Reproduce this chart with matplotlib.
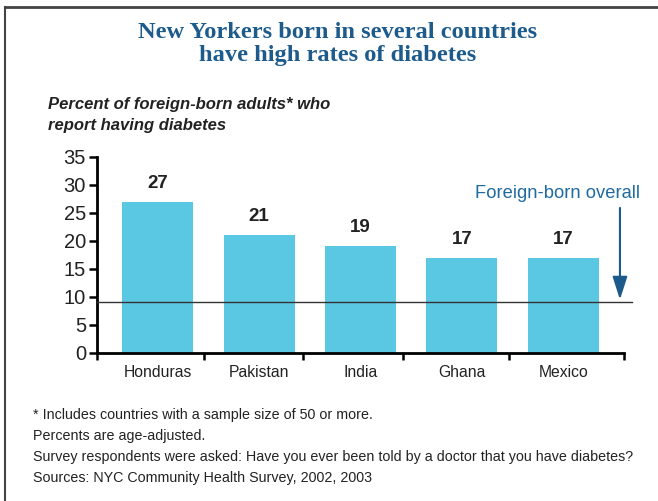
import matplotlib.pyplot as plt
from matplotlib.lines import Line2D

countries = ['Honduras', 'Pakistan', 'India', 'Ghana', 'Mexico']
pct = [27, 21, 19, 17, 17]
overall = 9

fig = plt.figure(figsize=(6.58, 5.01), dpi=100)

# frame on top and left only
fig.add_artist(Line2D([5/658, 1], [1 - 7/501, 1 - 7/501], color='#444444', lw=2))
fig.add_artist(Line2D([5/658, 5/658], [0, 1 - 7/501], color='#444444', lw=1.5))

fig.text(0.513, 1 - 44/501, 'New Yorkers born in several countries\nhave high rates of diabetes',
         ha='center', va='center', fontsize=17.6, fontweight='bold', family='Liberation Serif',
         color='#1d5b8c', linespacing=1.13)
fig.text(48/658, 1 - 115/501, 'Percent of foreign-born adults* who\nreport having diabetes',
         ha='left', va='center', fontsize=12, fontweight='bold', style='italic',
         family='Liberation Sans', color='#222222', linespacing=1.45)

ax = fig.add_axes([97/658, 148.3/501, 527/658, 195.7/501])
x = range(len(countries))
ax.bar(x, pct, width=0.7, color='#5bc8e3')
for i, v in zip(x, pct):
    ax.text(i, v + 1.8, str(v), ha='center', va='bottom', fontsize=13.5, fontweight='bold',
            family='Liberation Sans', color='#222222')

ax.set_xlim(-0.6, 4.6)
ax.set_ylim(0, 35)
ax.set_yticks(range(0, 36, 5))
ax.set_yticklabels([str(t) for t in range(0, 36, 5)], fontsize=14.5, family='Liberation Sans', color='#222222')
ax.set_xticks([-0.6, 0.46, 1.43, 2.42, 3.47, 4.6])
ax.set_xticklabels([])
for i, c in zip(x, countries):
    ax.text(i, -2.2, c, ha='center', va='top', fontsize=11.3, family='Liberation Sans', color='#222222')
ax.tick_params(axis='y', length=6, width=1.8, pad=2)
ax.tick_params(axis='x', length=5, width=1.8)
for s in ['top', 'right']:
    ax.spines[s].set_visible(False)
for s in ['left', 'bottom']:
    ax.spines[s].set_linewidth(2)

# foreign-born overall line and arrow
ax.plot([-0.6, 4.68], [overall, overall], color='#333333', lw=1, clip_on=False, zorder=3)
ax.annotate('', xy=(4.56, overall), xytext=(4.56, 26.4),
            arrowprops=dict(arrowstyle='-|>,head_length=1.4,head_width=0.45', color='#1b5a8a', lw=1.5),
            annotation_clip=False)
ax.text(4.76, 28.4, 'Foreign-born overall', ha='right', va='center', fontsize=13.2,
        family='Liberation Sans', color='#1f6aa0', clip_on=False)

notes = ['* Includes countries with a sample size of 50 or more.',
         'Percents are age-adjusted.',
         'Survey respondents were asked: Have you ever been told by a doctor that you have diabetes?',
         'Sources: NYC Community Health Survey, 2002, 2003']
for k, n in enumerate(notes):
    fig.text(33/658, 1 - (415 + 21 * k)/501, n, ha='left', va='center', fontsize=10.3,
             family='Liberation Sans', color='#222222')

fig.savefig('out.png', dpi=100)
